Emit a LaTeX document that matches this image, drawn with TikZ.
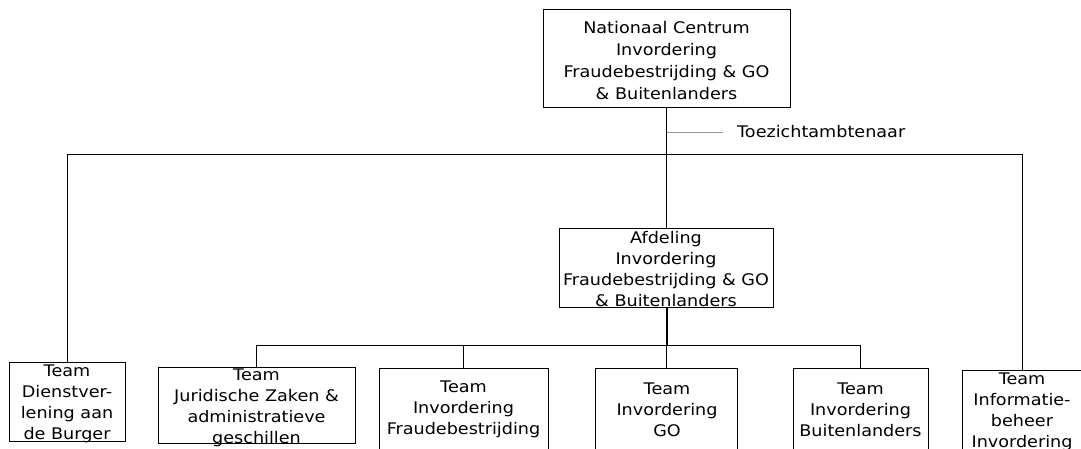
\documentclass[tikz,border=0pt]{standalone}
\usepackage{fontspec}
\setmainfont{DejaVu Sans}[FakeStretch=1.1]
\begin{document}
\begin{tikzpicture}[x=1pt,y=-1pt,
  boxst/.style={draw=black,line width=1pt,inner sep=0pt},
  txt/.style={inner sep=0pt,align=center,font=\fontsize{16}{21}\selectfont},
  lnk/.style={draw=black,line width=1pt}]
\useasboundingbox (0,0) rectangle (1081,448);
\clip (0,0) rectangle (1081,448);
% boxes
\node[boxst,minimum width=247pt,minimum height=98pt] (top) at (666.5,58) {};
\node[txt,font=\fontsize{16}{22}\selectfont] (toptxt) at (666.5,61) {Nationaal Centrum\\Invordering\\Fraudebestrijding \& GO\\\& Buitenlanders};
\node[boxst,minimum width=214pt,minimum height=79pt] (afd) at (666.5,267.5) {};
\node[txt] (afdtxt) at (666,269.5) {Afdeling\\Invordering\\Fraudebestrijding \& GO\\\& Buitenlanders};
\node[boxst,minimum width=116pt,minimum height=79pt] (dienst) at (67,401.5) {};
\node[txt] (diensttxt) at (67,403.5) {Team\\Dienstver-\\lening aan\\de Burger};
\node[boxst,minimum width=197pt,minimum height=76pt] (jur) at (256.5,405) {};
\node[txt] (jurtxt) at (256.5,407.5) {Team\\Juridische Zaken \&\\administratieve\\geschillen};
\node[boxst,minimum width=169pt,minimum height=84pt] (fraude) at (463.5,410) {};
\node[txt] (fraudetxt) at (463.5,409.5) {Team\\Invordering\\Fraudebestrijding};
\node[boxst,minimum width=142pt,minimum height=84pt] (go) at (666.5,410) {};
\node[txt] (gotxt) at (667,409.5) {Team\\Invordering\\GO};
\node[boxst,minimum width=135pt,minimum height=84pt] (buit) at (860.5,410) {};
\node[txt] (buittxt) at (860.5,409.5) {Team\\Invordering\\Buitenlanders};
\node[boxst,minimum width=120pt,minimum height=86pt] (info) at (1022,413) {};
\node[txt] (infotxt) at (1022,411.5) {Team\\Informatie-\\beheer\\Invordering};
% label
\node[txt,anchor=west] (toez) at (737,132) {Toezichtambtenaar};
\coordinate (tz) at (666.5,132);
\coordinate (tze) at (723,132);
\coordinate (bus) at (666.5,154);
\coordinate (tbus) at (666.5,345);
% connectors
\draw[lnk] (top.south) -- (afd.north);
\draw[draw=gray!80,line width=0.8pt] (tz) -- (tze);
\draw[lnk] (dienst.north) -- (dienst.north |- bus) -- (bus -| info.north) -- (info.north);
\draw[draw=black,line width=2pt] (afd.south) -- (tbus);
\draw[lnk] (jur.north) -- (jur.north |- tbus) -- (tbus -| buit.north) -- (buit.north);
\draw[lnk] (fraude.north |- tbus) -- (fraude.north);
\draw[lnk] (tbus) -- (go.north);
\end{tikzpicture}
\end{document}
